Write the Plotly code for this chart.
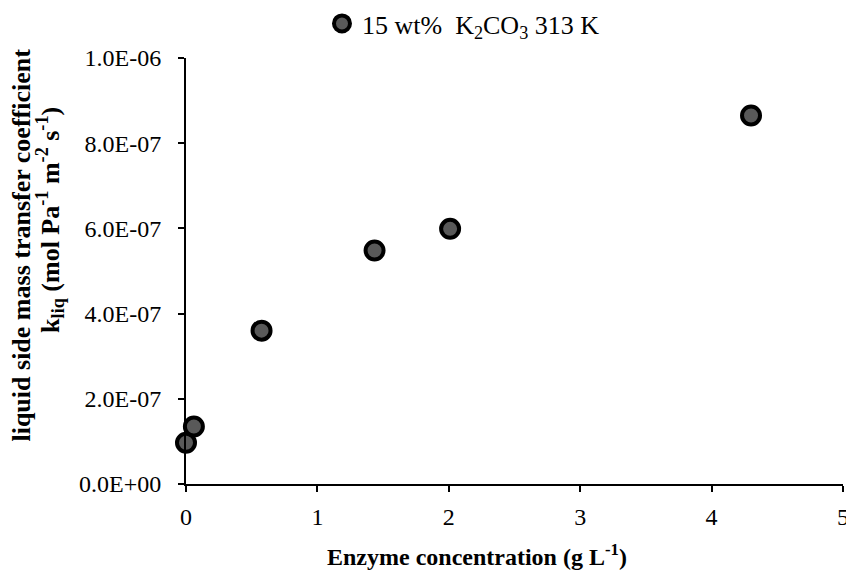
import plotly.graph_objects as go

enzyme_conc = [0.0, 0.06, 0.575, 1.435, 2.01, 4.30]
k_liq = [9.7e-8, 1.35e-7, 3.6e-7, 5.48e-7, 5.99e-7, 8.65e-7]
series_name = "15 wt%&nbsp; K<sub>2</sub>CO<sub>3</sub> 313 K"
y_tickvals = [0, 2e-7, 4e-7, 6e-7, 8e-7, 1e-6]
y_ticktext = ["0.0E+00", "2.0E-07", "4.0E-07", "6.0E-07", "8.0E-07", "1.0E-06"]
x_tickvals = [0, 1, 2, 3, 4, 5]

FONT = "Liberation Serif, Times New Roman, serif"

fig = go.Figure()
fig.add_trace(go.Scatter(
    x=enzyme_conc, y=k_liq, mode="markers", name=series_name,
    marker=dict(size=18, color="#595959", line=dict(color="black", width=4)),
    cliponaxis=False,
))

fig.update_layout(
    width=846, height=573,
    paper_bgcolor="white", plot_bgcolor="white",
    margin=dict(l=186, r=3, t=58, b=89, autoexpand=False),
    font=dict(family=FONT, size=24, color="black"),
    showlegend=True,
    legend=dict(orientation="h", x=0.3806, xanchor="left", y=1.0, yanchor="top",
                xref="container", yref="container",
                font=dict(family=FONT, size=26, color="black"),
                bgcolor="rgba(0,0,0,0)", itemwidth=30),
    xaxis=dict(range=[0, 5], tickvals=x_tickvals, showgrid=False, zeroline=False,
               automargin=False,
               showline=True, linecolor="black", linewidth=2,
               ticks="outside", ticklen=6, tickwidth=1.5, tickcolor="black",
               ticklabeloverflow="allow", ticklabelstandoff=4,
               tickfont=dict(family=FONT, size=24)),
    yaxis=dict(range=[0, 1e-6], tickvals=y_tickvals, ticktext=y_ticktext,
               automargin=False,
               showgrid=False, zeroline=False,
               showline=True, linecolor="black", linewidth=2,
               ticks="outside", ticklen=6, tickwidth=1.5, tickcolor="black",
               ticklabelstandoff=12,
               tickfont=dict(family=FONT, size=24)),
)

fig.add_annotation(text="<b>Enzyme concentration (g L<sup>-1</sup>)</b>",
                   xref="paper", yref="paper", x=0.443, y=-0.167, xanchor="center", yanchor="middle",
                   showarrow=False, font=dict(family=FONT, size=24, color="black"))
fig.add_annotation(text="<b>liquid side mass transfer coefficient</b>",
                   xref="paper", yref="paper", x=-0.251, y=0.56, xanchor="center", yanchor="middle",
                   textangle=-90, showarrow=False, font=dict(family=FONT, size=26, color="black"))
fig.add_annotation(text="<b>k<sub>liq</sub> (mol Pa<sup>-1</sup> m<sup>-2</sup> s<sup>-1</sup>)</b>",
                   xref="paper", yref="paper", x=-0.207, y=0.62, xanchor="center", yanchor="middle",
                   textangle=-90, showarrow=False, font=dict(family=FONT, size=26, color="black"))

fig.write_html("out.html")
